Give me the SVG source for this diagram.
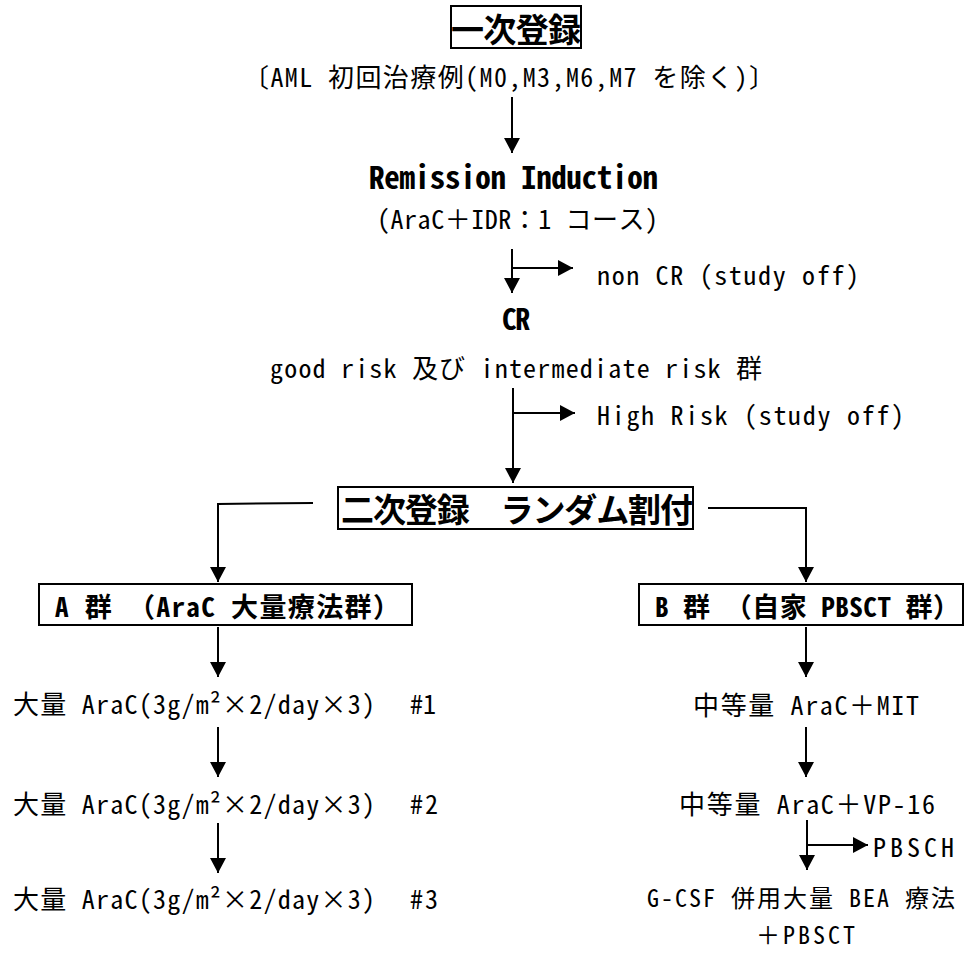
<svg xmlns="http://www.w3.org/2000/svg" width="965" height="956" viewBox="0 0 965 956">
<defs>
<marker id="ah" markerUnits="userSpaceOnUse" markerWidth="16" markerHeight="16" refX="15" refY="8" orient="auto">
<path d="M0,0 L15,8 L0,16 Z" fill="#000"/>
</marker>
<style>
text{font-family:"Noto Sans Mono CJK JP","Noto Sans CJK JP","Liberation Sans",sans-serif;fill:#000;dominant-baseline:central;font-size:26px}
.b{font-weight:bold}
.s32{font-size:33px}
.s31{font-size:31px}
.s28{font-size:29px}
.s26{font-size:27px}
.s24{font-size:24px}
.box{fill:#fff;stroke:#000;stroke-width:2}
.ar{fill:none;stroke:#000;stroke-width:2;marker-end:url(#ah)}
</style>
</defs>
<rect width="965" height="956" fill="#fff"/>
<g id="connectors">
<line class="ar" x1="512" y1="97" x2="512" y2="153"/>
<line class="ar" x1="512" y1="249" x2="512" y2="293"/>
<line class="ar" x1="512" y1="268" x2="573" y2="268"/>
<line class="ar" x1="513" y1="388" x2="513" y2="483"/>
<line class="ar" x1="513" y1="413" x2="575" y2="413"/>
<polyline class="ar" points="313,503 218,504 218,582"/>
<polyline class="ar" points="708,508 806,508 806,582"/>
<line class="ar" x1="218" y1="627" x2="218" y2="677"/>
<line class="ar" x1="218" y1="727" x2="218" y2="777"/>
<line class="ar" x1="218" y1="823" x2="218" y2="873"/>
<line class="ar" x1="806" y1="627" x2="806" y2="677"/>
<line class="ar" x1="806" y1="727" x2="806" y2="777"/>
<line class="ar" x1="807" y1="820" x2="807" y2="870"/>
<line class="ar" x1="807" y1="845" x2="868" y2="845"/>
</g>
<g id="reg1">
<rect class="box" x="451" y="6" width="130" height="42"/>
<text class="b s32" x="451" y="28" textLength="130">一次登録</text>
</g>
<g id="cond">
<text x="243" y="75" textLength="532">〔AML 初回治療例(M0,M3,M6,M7 を除く)〕</text>
</g>
<g id="induction">
<text class="b s31" x="369" y="175" textLength="289">Remission Induction</text>
<text x="377" y="217" textLength="281">(AraC＋IDR：1 コース)</text>
</g>
<g id="noncr">
<text x="597" y="273" textLength="262">non CR (study off)</text>
</g>
<g id="cr">
<text class="b s28" x="502" y="317" textLength="28">CR</text>
<text x="270" y="366" textLength="492">good risk 及び intermediate risk 群</text>
</g>
<g id="highrisk">
<text x="597" y="413" textLength="307">High Risk (study off)</text>
</g>
<g id="reg2">
<rect class="box" x="338" y="487" width="355" height="42"/>
<text class="b s32" x="341" y="508" textLength="352">二次登録　ランダム割付</text>
</g>
<g id="groupA">
<rect class="box" x="39" y="584" width="373" height="41"/>
<text class="b s26" x="55" y="605" textLength="345">A 群 （AraC 大量療法群）</text>
</g>
<g id="groupB">
<rect class="box" x="639" y="584" width="324" height="41"/>
<text class="b s26" x="655" y="605" textLength="305">B 群 （自家 PBSCT 群）</text>
</g>
<g id="a1">
<text x="13" y="702" textLength="362">大量 AraC(3g/m²×2/day×3)</text>
<text x="410" y="702" textLength="26">#1</text>
</g>
<g id="a2">
<text x="13" y="802" textLength="362">大量 AraC(3g/m²×2/day×3)</text>
<text x="410" y="802" textLength="28">#2</text>
</g>
<g id="a3">
<text x="13" y="897" textLength="362">大量 AraC(3g/m²×2/day×3)</text>
<text x="410" y="897" textLength="28">#3</text>
</g>
<g id="b1">
<text x="693" y="703" textLength="226">中等量 AraC＋MIT</text>
</g>
<g id="b2">
<text x="679" y="802" textLength="256">中等量 AraC＋VP-16</text>
</g>
<g id="pbsch">
<text x="873" y="845" textLength="81">PBSCH</text>
</g>
<g id="b3">
<text class="s24" x="647" y="896" textLength="308">G-CSF 併用大量 BEA 療法</text>
<text class="s24" x="756" y="933" textLength="99">＋PBSCT</text>
</g>
</svg>
